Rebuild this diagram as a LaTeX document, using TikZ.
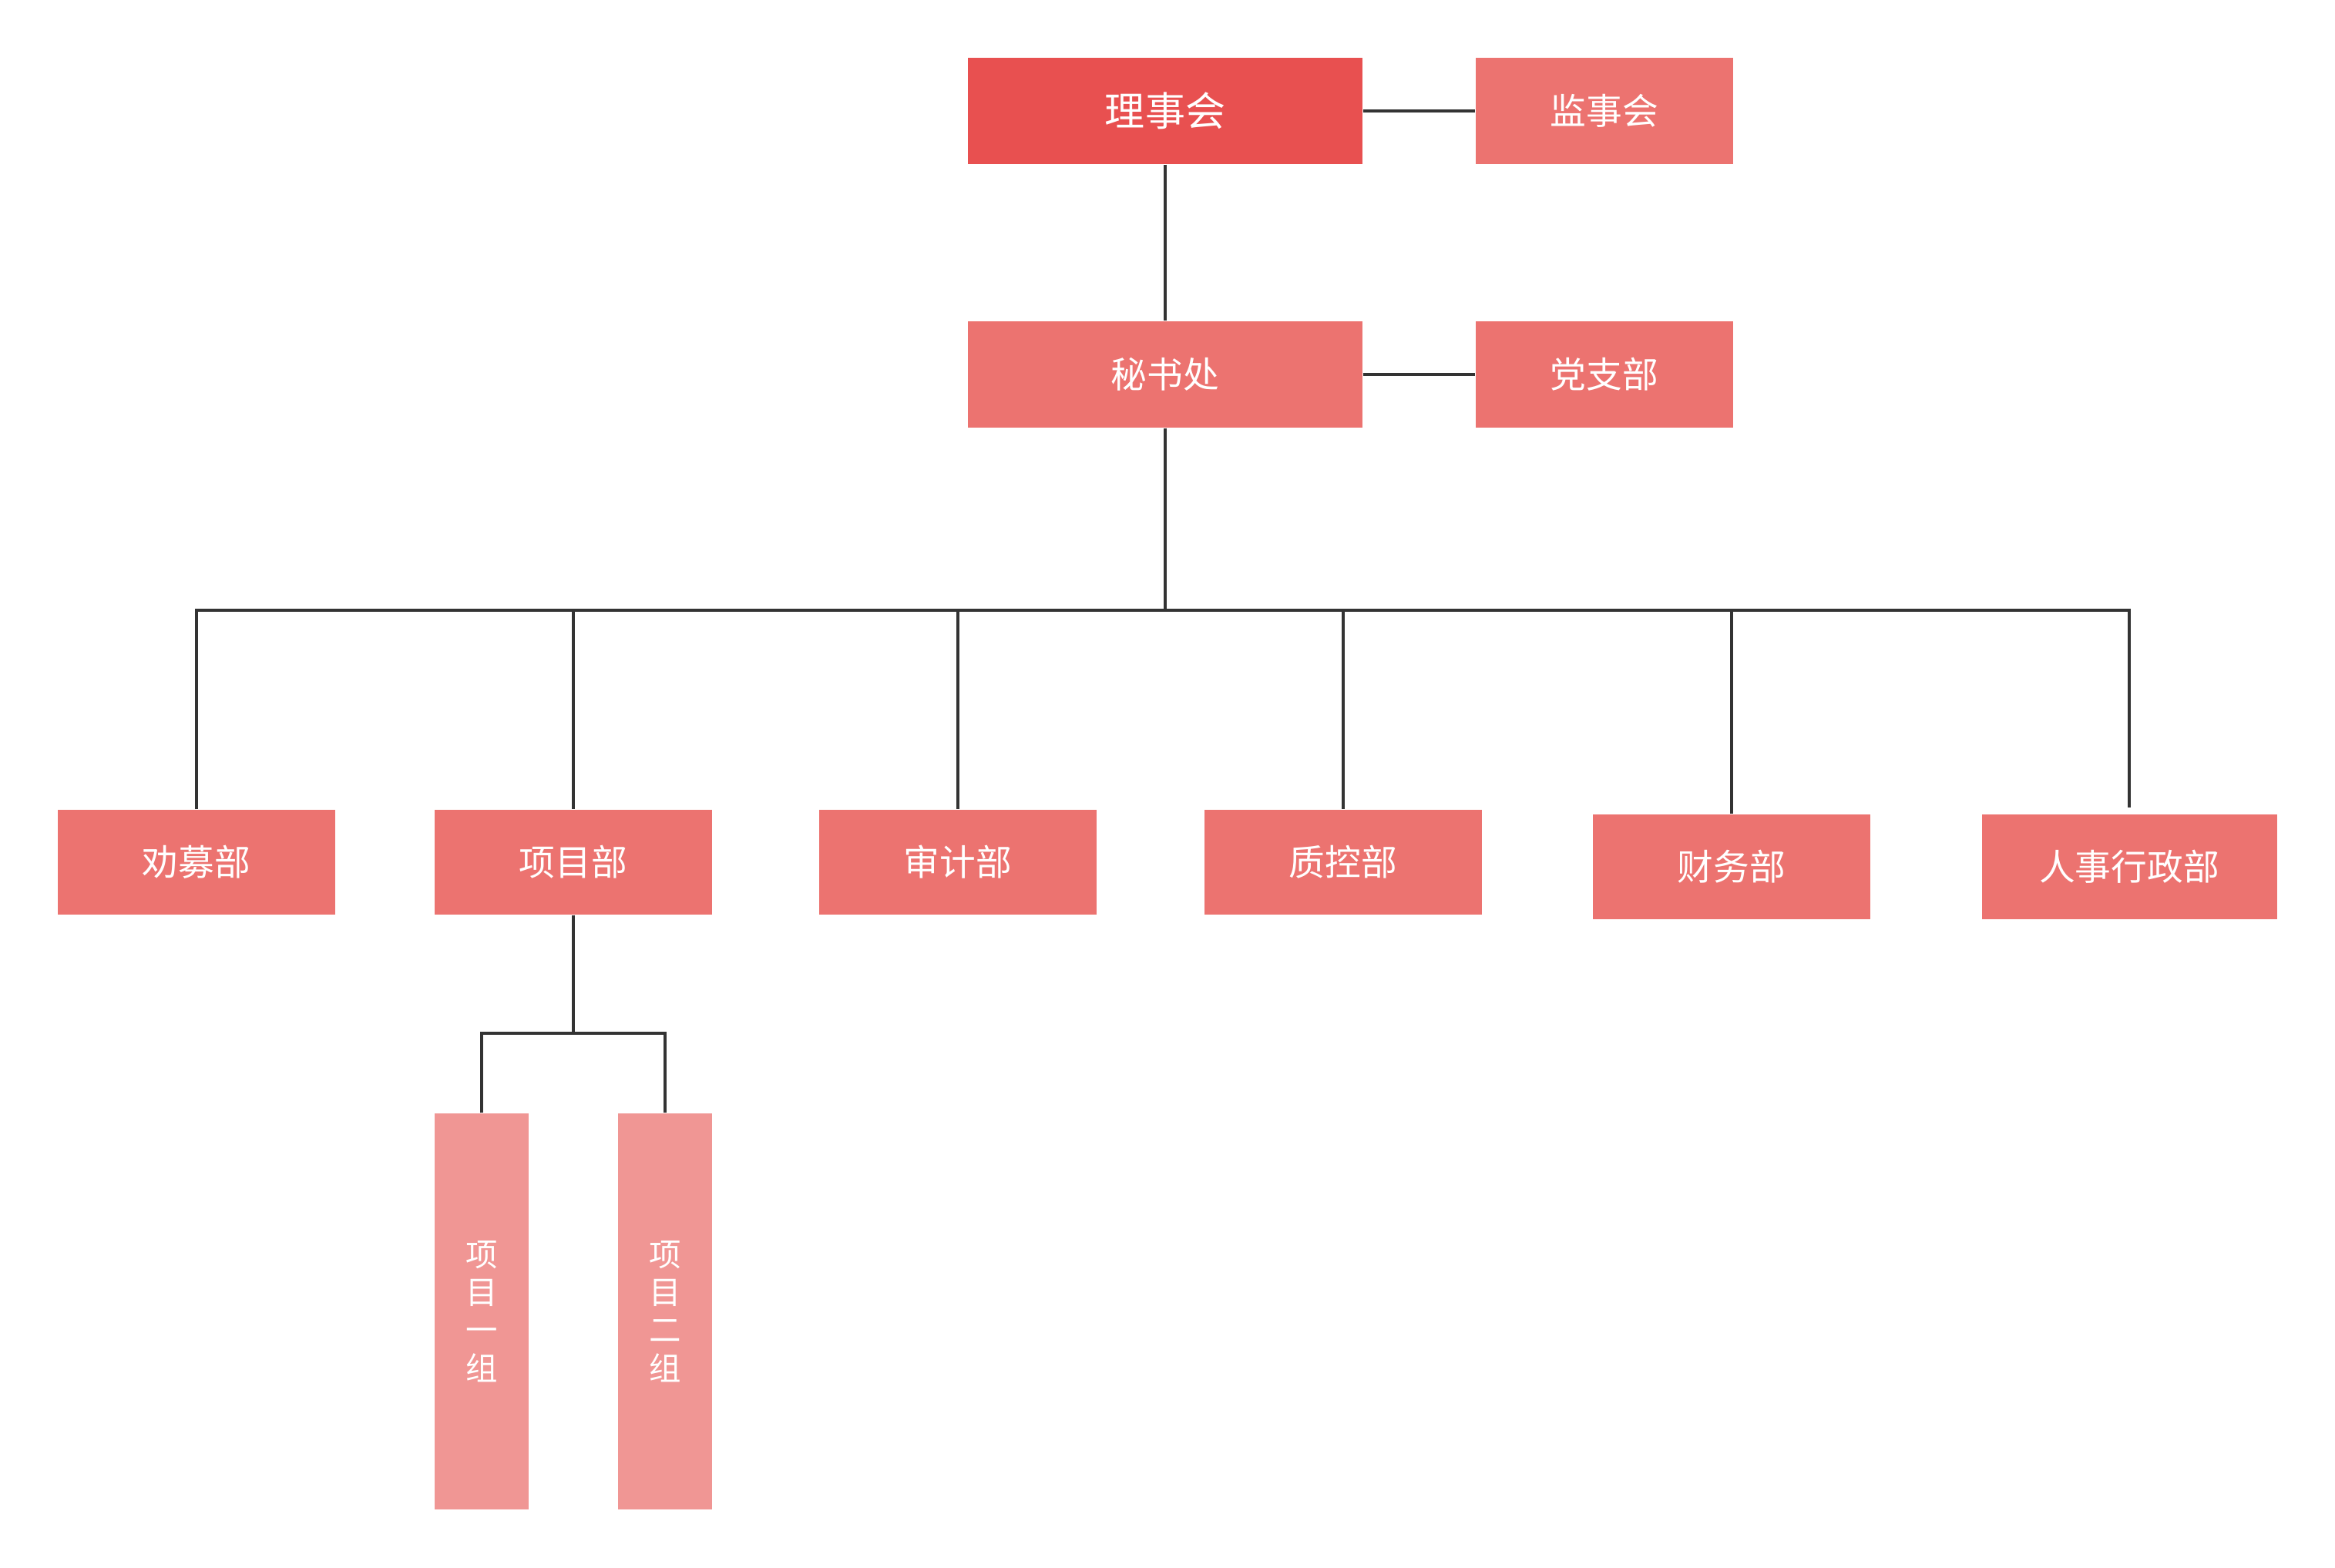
\documentclass[tikz,border=0pt]{standalone}
\usepackage{fontspec}
\setmainfont{Noto Sans CJK SC}
\usepackage{tikz}
\usetikzlibrary{positioning}
\usepackage{xcolor}
\definecolor{boardred}{HTML}{E85050}
\definecolor{deptred}{HTML}{EC7370}
\definecolor{grouppink}{HTML}{F09694}
\definecolor{linkgray}{HTML}{333333}
\tikzset{%
	every box/.style={
		rectangle,
		draw=none,
		text=white,
		inner sep=0pt
	},
	board/.style={
		every box,
		fill=boardred,
		minimum width=5.12cm,
		minimum height=1.38cm,
		font=\fontsize{14.8pt}{17pt}\selectfont
	},
	side/.style={
		every box,
		fill=deptred,
		minimum width=3.34cm,
		minimum height=1.38cm,
		font=\fontsize{13.3pt}{16pt}\selectfont
	},
	dept/.style={
		every box,
		fill=deptred,
		minimum width=3.6cm,
		minimum height=1.36cm,
		font=\fontsize{13.3pt}{16pt}\selectfont
	},
	group/.style={
		every box,
		fill=grouppink,
		minimum width=1.22cm,
		minimum height=5.14cm,
		align=center,
		font=\fontsize{11.8pt}{14pt}\selectfont
	},
	link/.style={
		draw=linkgray,
		line width=1.3pt
	},
}
\begin{document}
\begin{tikzpicture}
			\useasboundingbox (0,0) rectangle (30.3,-20.34);
			
			% top rows
			\node[board] (lsh) at (15.12,-1.44) {理事会};
			\node[side] (jsh) at (20.82,-1.44) {监事会};
			\node[board, fill=deptred, font=\fontsize{13.3pt}{16pt}\selectfont] (msc) at (15.12,-4.86) {秘书处};
			\node[side] (dzb) at (20.82,-4.86) {党支部};
			
			\draw[link] (lsh.east) -- (jsh.west);
			\draw[link] (lsh.south) -- (msc.north);
			\draw[link] (msc.east) -- (dzb.west);
			
			% departments
			\node[dept] (qmb) at (2.55,-11.19) {劝募部};
			\node[dept] (xmb) at (7.44,-11.19) {项目部};
			\node[dept] (sjb) at (12.43,-11.19) {审计部};
			\node[dept] (zkb) at (17.43,-11.19) {质控部};
			\node[dept] (cwb) at (22.47,-11.25) {财务部};
			\node[dept, minimum width=3.83cm] (rsb) at (27.63,-11.25) {人事行政部};
			
			\coordinate (bus) at (15.12,-7.92);
			\draw[link] (msc.south) -- (bus);
			\draw[link] (qmb.north) |- (bus) -| ([yshift=0.08cm]rsb.north);
			\foreach \d in {xmb, sjb, zkb, cwb}
				\draw[link] (bus -| \d.north) -- (\d.north);
			
			% project groups
			\node[group] (xm1) at (6.25,-17.02) {项\\目\\一\\组};
			\node[group] (xm2) at (8.63,-17.02) {项\\目\\二\\组};
			
			\coordinate (sub) at (7.44,-13.41);
			\draw[link] (xmb.south) -- (sub);
			\draw[link] (xm1.north) |- (sub) -| (xm2.north);
		\end{tikzpicture}
\end{document}
